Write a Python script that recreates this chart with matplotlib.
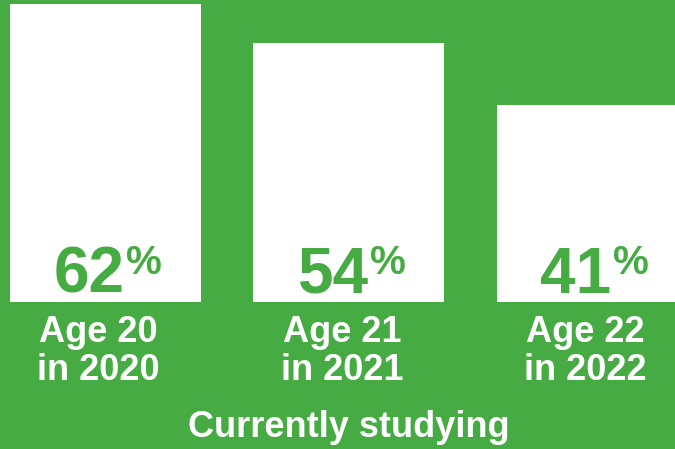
import matplotlib
matplotlib.use("Agg")
import matplotlib.pyplot as plt

categories = ["Age 20\nin 2020", "Age 21\nin 2021", "Age 22\nin 2022"]
values = [62, 54, 41]
title = "Currently studying"

GREEN = "#45AB42"
FONT = "Liberation Sans"

fig = plt.figure(figsize=(6.75, 4.49), dpi=100, facecolor=GREEN)
ax = fig.add_axes([0, 0, 1, 1])
ax.set_facecolor(GREEN)
ax.set_xlim(-0.433, 2.339)
ax.set_ylim(-30.625, 62.92)
ax.axis("off")

xs = list(range(len(values)))
ax.bar(xs, values, width=0.784, color="white", linewidth=0)

for x, v, lab in zip(xs, values, categories):
    ax.text(x + 0.078, 1.9, f"{v}", ha="right", va="baseline", color=GREEN,
            fontsize=46, fontweight="bold", family=FONT)
    ax.text(x + 0.085, 5.8, "%", ha="left", va="baseline", color=GREEN,
            fontsize=29, fontweight="bold", family=FONT)
    l1, l2 = lab.split("\n")
    ax.text(x - 0.029, -8.33, l1, ha="center", va="baseline", color="white",
            fontsize=26, fontweight="bold", family=FONT)
    ax.text(x - 0.029, -16.25, l2, ha="center", va="baseline", color="white",
            fontsize=26, fontweight="bold", family=FONT)

ax.text(1.0, -28.1, title, ha="center", va="baseline", color="white",
        fontsize=26, fontweight="bold", family=FONT)

fig.savefig("out.png", dpi=100, facecolor=GREEN)
